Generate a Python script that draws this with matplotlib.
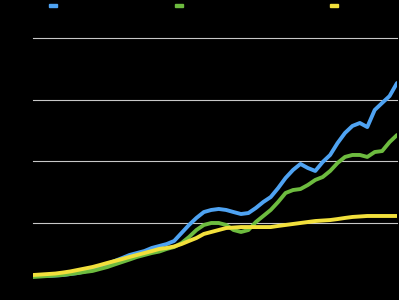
import matplotlib
matplotlib.use("Agg")
import matplotlib.pyplot as plt
from matplotlib.patches import Patch

years = list(range(1970, 2020))
series_names = ["Series A", "Series B", "Series C"]
blue_vals = [6.5, 6.5, 6.5, 6.9, 7.3, 8.1, 8.9, 10.2, 12.2, 13.8,
             16.3, 18.7, 21.1, 23.6, 25.2, 26.8, 29.3, 30.9, 32.5, 35.0,
             41.5, 48.0, 53.7, 58.5, 60.2, 61.0, 60.2, 58.5, 56.9, 57.7,
             61.8, 66.7, 70.7, 78.0, 86.2, 92.7, 97.6, 94.3, 91.9, 99.2,
             104.9, 114.6, 122.8, 128.5, 130.9, 127.6, 141.5, 147.2, 152.8, 163.4]
green_vals = [5.7, 6.1, 6.5, 6.9, 7.3, 8.1, 8.9, 9.8, 10.6, 12.2,
              13.8, 15.9, 17.9, 19.9, 22.0, 23.6, 25.2, 26.4, 28.5, 30.1,
              33.3, 38.2, 43.9, 48.0, 49.6, 49.6, 48.0, 43.9, 42.3, 43.9,
              50.4, 55.3, 60.2, 66.7, 74.0, 76.4, 77.2, 80.5, 84.6, 87.0,
              91.9, 98.4, 103.3, 104.9, 104.9, 103.3, 107.3, 108.1, 115.4, 121.1]
yellow_vals = [7.3, 7.7, 8.1, 8.5, 9.3, 10.2, 11.4, 12.6, 13.8, 15.4,
               17.1, 18.7, 20.3, 22.0, 23.6, 25.2, 26.8, 28.5, 29.3, 30.5,
               32.5, 35.0, 37.4, 40.7, 42.3, 43.9, 45.5, 45.9, 46.3, 46.3,
               46.3, 46.3, 46.3, 47.2, 48.0, 48.8, 49.6, 50.4, 51.2, 51.6,
               52.0, 52.8, 53.7, 54.5, 54.9, 55.3, 55.3, 55.3, 55.3, 55.3]
y_ticks = [0, 50, 100, 150, 200]

colors = ["#4fa3f2", "#6dbb3f", "#f2e03c"]

fig = plt.figure(figsize=(3.99, 3.0), dpi=100, facecolor="black")
ax = fig.add_axes([33/399, 16/300, 364/399, 246/300])
ax.set_facecolor("black")

for vals, c in zip([blue_vals, green_vals, yellow_vals], colors):
    ax.plot(years, vals, color=c, lw=2.8, solid_joinstyle="round", solid_capstyle="round", zorder=3)

ax.set_xlim(years[0], years[-1])
ax.set_ylim(0, 200)
ax.set_yticks(y_ticks)
for t in y_ticks[1:]:
    ax.axhline(t, color="#c8c8c8", lw=0.8, zorder=1, clip_on=False)
for s in ax.spines.values():
    s.set_visible(False)
ax.tick_params(axis="both", length=0, colors="black", labelsize=7)
ax.tick_params(axis="y", pad=2)

legend_x = [50/399, 176/399, 331/399]
for name, c, lx in zip(series_names, colors, legend_x):
    leg = fig.legend(handles=[Patch(color=c, label=name)], loc="center left",
                     bbox_to_anchor=(lx - 0.003, 1 - 6/300), frameon=False,
                     handlelength=0.8, handleheight=0.25, handletextpad=0.4,
                     borderpad=0, borderaxespad=0, fontsize=7, labelcolor="black")

fig.savefig("out.png", dpi=100, facecolor="black")
